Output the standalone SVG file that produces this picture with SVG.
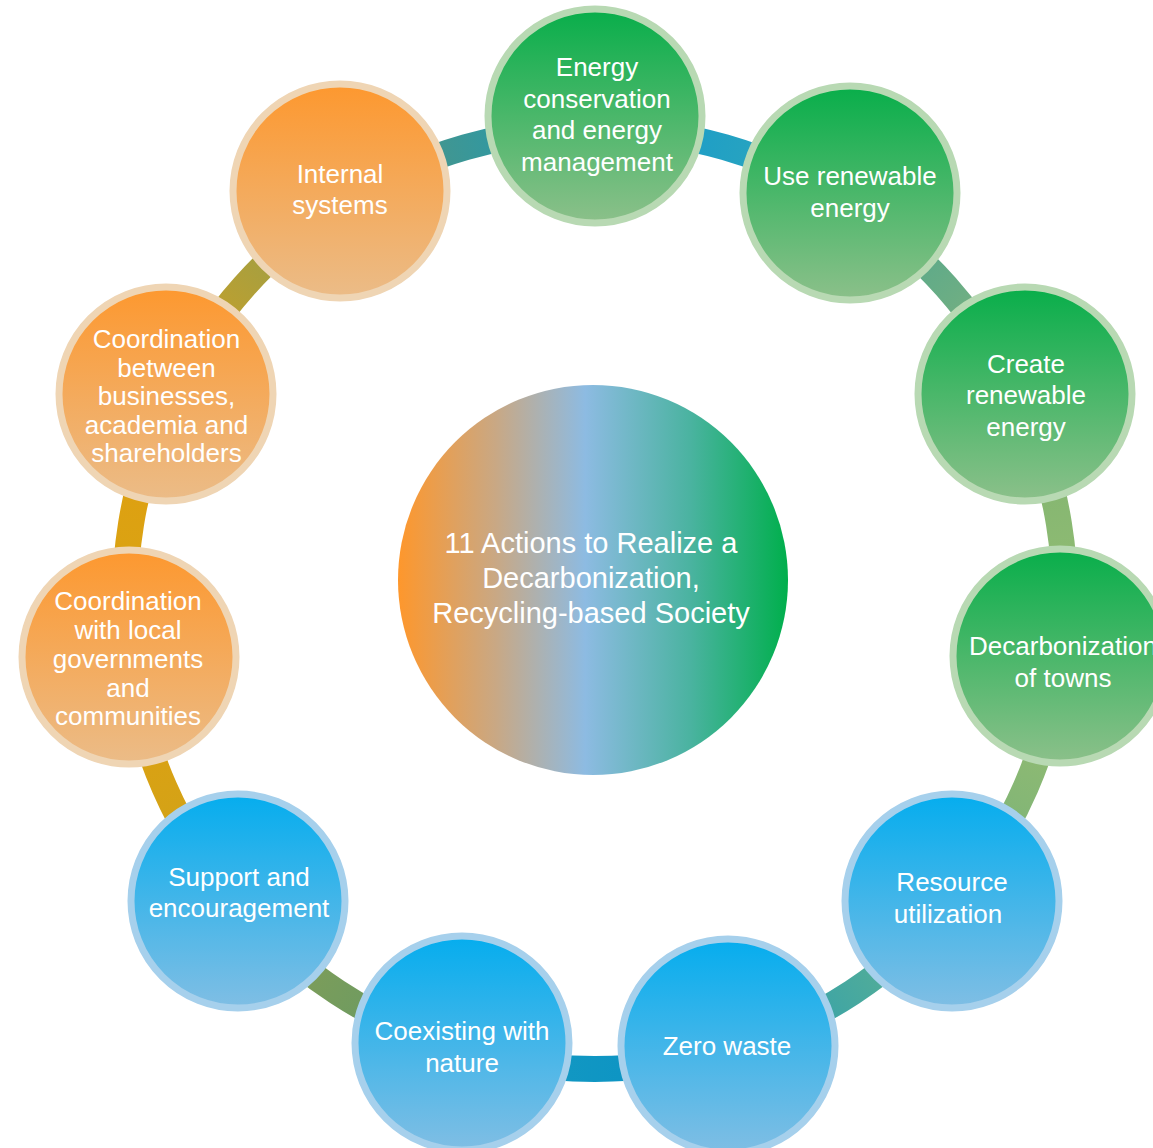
<svg xmlns="http://www.w3.org/2000/svg" width="1153" height="1148" viewBox="0 0 1153 1148">
<defs>
<linearGradient id="gGreen" x1="0" y1="0" x2="0" y2="1"><stop offset="0" stop-color="#08ae4a"/><stop offset="1" stop-color="#8cc08a"/></linearGradient>
<linearGradient id="gOrange" x1="0" y1="0" x2="0" y2="1"><stop offset="0" stop-color="#fd982f"/><stop offset="1" stop-color="#ebbc88"/></linearGradient>
<linearGradient id="gBlue" x1="0" y1="0" x2="0" y2="1"><stop offset="0" stop-color="#05adee"/><stop offset="1" stop-color="#80bee4"/></linearGradient>
<linearGradient id="gCenter" x1="0" y1="0" x2="1" y2="0"><stop offset="0" stop-color="#fe972c"/><stop offset="0.25" stop-color="#c9a884"/><stop offset="0.48" stop-color="#8dbbe2"/><stop offset="0.75" stop-color="#4ab3a0"/><stop offset="1" stop-color="#00af4c"/></linearGradient>
<linearGradient id="c1" gradientUnits="userSpaceOnUse" x1="595" y1="129" x2="845" y2="201"><stop offset="0.3" stop-color="#1c9dc8"/><stop offset="0.7" stop-color="#2aa5be"/></linearGradient>
<linearGradient id="c2" gradientUnits="userSpaceOnUse" x1="845" y1="201" x2="1019" y2="397"><stop offset="0.3" stop-color="#5aa98b"/><stop offset="0.7" stop-color="#76b080"/></linearGradient>
<linearGradient id="c3" gradientUnits="userSpaceOnUse" x1="1019" y1="397" x2="1061" y2="656"><stop offset="0.3" stop-color="#84b671"/><stop offset="0.7" stop-color="#8fbb73"/></linearGradient>
<linearGradient id="c4" gradientUnits="userSpaceOnUse" x1="1061" y1="656" x2="954" y2="902"><stop offset="0.3" stop-color="#8fba72"/><stop offset="0.7" stop-color="#80b577"/></linearGradient>
<linearGradient id="c5" gradientUnits="userSpaceOnUse" x1="954" y1="902" x2="729" y2="1049"><stop offset="0.3" stop-color="#55ae96"/><stop offset="0.7" stop-color="#3aa3a8"/></linearGradient>
<linearGradient id="c6" gradientUnits="userSpaceOnUse" x1="729" y1="1049" x2="460" y2="1049"><stop offset="0.3" stop-color="#0c94c4"/><stop offset="0.7" stop-color="#1398c2"/></linearGradient>
<linearGradient id="c7" gradientUnits="userSpaceOnUse" x1="460" y1="1049" x2="236" y2="902"><stop offset="0.3" stop-color="#6c9b62"/><stop offset="0.7" stop-color="#7f9d58"/></linearGradient>
<linearGradient id="c8" gradientUnits="userSpaceOnUse" x1="236" y1="902" x2="129" y2="657"><stop offset="0.3" stop-color="#d2a318"/><stop offset="0.7" stop-color="#dba112"/></linearGradient>
<linearGradient id="c9" gradientUnits="userSpaceOnUse" x1="129" y1="657" x2="171" y2="397"><stop offset="0.3" stop-color="#daa313"/><stop offset="0.7" stop-color="#dea011"/></linearGradient>
<linearGradient id="c10" gradientUnits="userSpaceOnUse" x1="171" y1="397" x2="346" y2="200"><stop offset="0.3" stop-color="#c2a02c"/><stop offset="0.7" stop-color="#a09f44"/></linearGradient>
<linearGradient id="c11" gradientUnits="userSpaceOnUse" x1="346" y1="200" x2="595" y2="129"><stop offset="0.3" stop-color="#48958a"/><stop offset="0.7" stop-color="#2c99a6"/></linearGradient>
<style>
.conn{fill:none;stroke-width:26}
.ng circle{stroke-width:7}
.green circle{fill:url(#gGreen);stroke:#b8d9b3}
.orange circle{fill:url(#gOrange);stroke:#efd5b4}
.blue circle{fill:url(#gBlue);stroke:#a6d0ec}
text{font-family:"Liberation Sans",Arial,sans-serif;fill:#ffffff;text-anchor:middle;font-size:26px}
.ctext{font-size:29px}
</style>
</defs>
<g id="connectors">
<path class="conn" stroke="url(#c1)" d="M595,129 A470,470 0 0 1 844.8,200.9"/>
<path class="conn" stroke="url(#c2)" d="M844.8,200.9 A470,470 0 0 1 1019.2,396.7"/>
<path class="conn" stroke="url(#c3)" d="M1019.2,396.7 A470,470 0 0 1 1061.5,656.3"/>
<path class="conn" stroke="url(#c4)" d="M1061.5,656.3 A470,470 0 0 1 954,902.4"/>
<path class="conn" stroke="url(#c5)" d="M954,902.4 A470,470 0 0 1 729.3,1049.4"/>
<path class="conn" stroke="url(#c6)" d="M729.3,1049.4 A470,470 0 0 1 459.9,1049.2"/>
<path class="conn" stroke="url(#c7)" d="M459.9,1049.2 A470,470 0 0 1 236,902.4"/>
<path class="conn" stroke="url(#c8)" d="M236,902.4 A470,470 0 0 1 128.6,657.1"/>
<path class="conn" stroke="url(#c9)" d="M128.6,657.1 A470,470 0 0 1 170.8,396.7"/>
<path class="conn" stroke="url(#c10)" d="M170.8,396.7 A470,470 0 0 1 345.9,200.4"/>
<path class="conn" stroke="url(#c11)" d="M345.9,200.4 A470,470 0 0 1 595,129"/>
</g>
<g id="center">
<circle cx="593" cy="580" r="195" fill="url(#gCenter)"/>
<text class="ctext"><tspan x="591" y="553">11 Actions to Realize a</tspan><tspan x="591" y="588">Decarbonization,</tspan><tspan x="591" y="623">Recycling-based Society</tspan></text>
</g>
<g id="n-energy-conservation" class="ng green">
<circle cx="595" cy="116" r="107"/>
<text><tspan x="597" y="76">Energy</tspan><tspan x="597" y="107.5">conservation</tspan><tspan x="597" y="139">and energy</tspan><tspan x="597" y="170.5">management</tspan></text>
</g>
<g id="n-use-renewable" class="ng green">
<circle cx="850" cy="193" r="107"/>
<text><tspan x="850" y="185">Use renewable</tspan><tspan x="850" y="216.5">energy</tspan></text>
</g>
<g id="n-create-renewable" class="ng green">
<circle cx="1025" cy="394" r="107"/>
<text><tspan x="1026" y="372.5">Create</tspan><tspan x="1026" y="404">renewable</tspan><tspan x="1026" y="435.5">energy</tspan></text>
</g>
<g id="n-decarbonization-towns" class="ng green">
<circle cx="1060" cy="656" r="107"/>
<text><tspan x="1063" y="655">Decarbonization</tspan><tspan x="1063" y="686.5">of towns</tspan></text>
</g>
<g id="n-resource-utilization" class="ng blue">
<circle cx="952" cy="901" r="107"/>
<text><tspan x="952" y="891">Resource</tspan><tspan x="948" y="922.5">utilization</tspan></text>
</g>
<g id="n-zero-waste" class="ng blue">
<circle cx="728" cy="1046" r="107"/>
<text x="727" y="1055">Zero waste</text>
</g>
<g id="n-coexisting-nature" class="ng blue">
<circle cx="462" cy="1043" r="107"/>
<text><tspan x="462" y="1039.5">Coexisting with</tspan><tspan x="462" y="1071.5">nature</tspan></text>
</g>
<g id="n-support-encouragement" class="ng blue">
<circle cx="238" cy="901" r="107"/>
<text><tspan x="239" y="886">Support and</tspan><tspan x="239" y="917">encouragement</tspan></text>
</g>
<g id="n-coordination-local" class="ng orange">
<circle cx="129" cy="657" r="107"/>
<text><tspan x="128" y="610">Coordination</tspan><tspan x="128" y="639">with local</tspan><tspan x="128" y="667.5">governments</tspan><tspan x="128" y="696.5">and</tspan><tspan x="128" y="724.5">communities</tspan></text>
</g>
<g id="n-coordination-between" class="ng orange">
<circle cx="166" cy="394" r="107"/>
<text><tspan x="166.5" y="347.5">Coordination</tspan><tspan x="166.5" y="376.5">between</tspan><tspan x="166.5" y="405">businesses,</tspan><tspan x="166.5" y="433.5">academia and</tspan><tspan x="166.5" y="461.5">shareholders</tspan></text>
</g>
<g id="n-internal-systems" class="ng orange">
<circle cx="340" cy="191" r="107"/>
<text><tspan x="340" y="182.5">Internal</tspan><tspan x="340" y="213.5">systems</tspan></text>
</g>
</svg>
